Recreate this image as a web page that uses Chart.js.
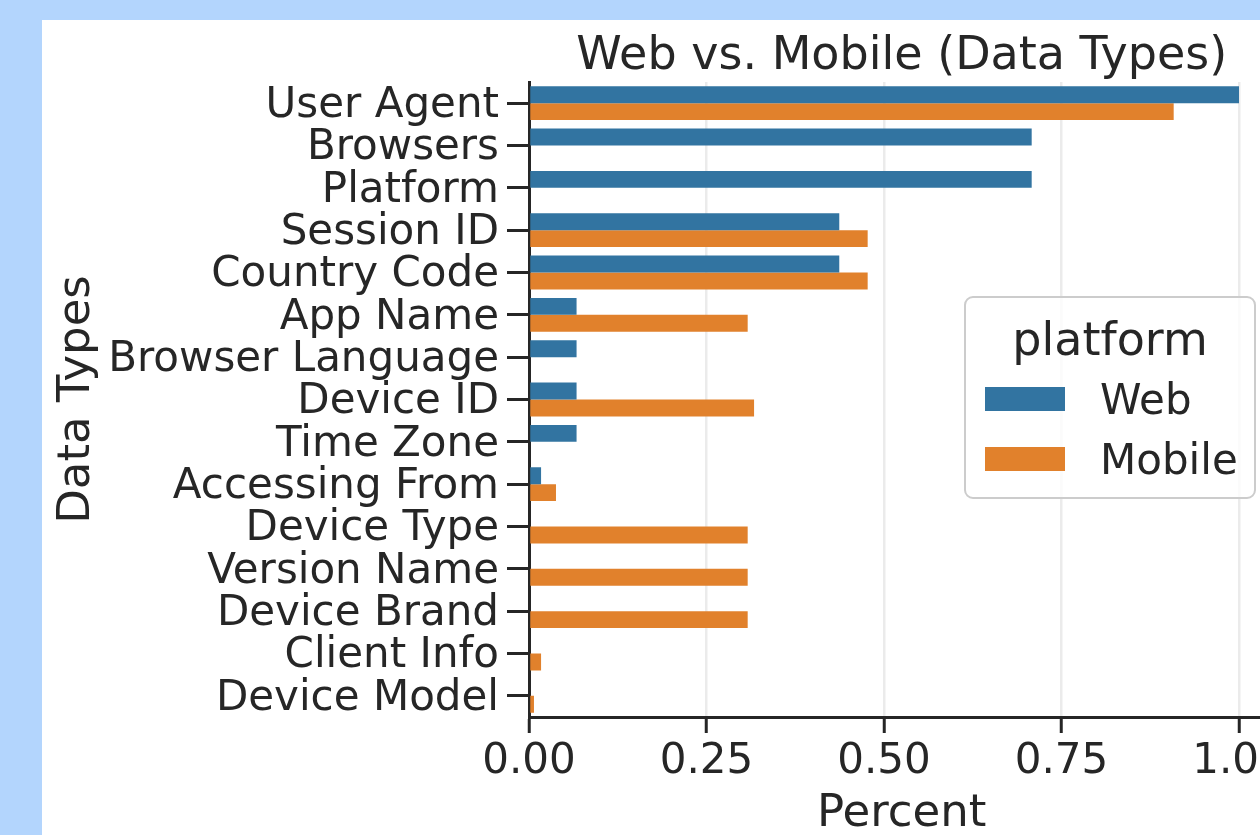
<!DOCTYPE html>
<html>
<head>
<meta charset="utf-8">
<script src="https://cdn.jsdelivr.net/npm/chart.js@4"></script>
<style>
  html, body {
    margin: 0;
    padding: 0;
    width: 1260px;
    height: 835px;
    overflow: hidden;
    background: #b3d5fd;
  }
  #panel {
    position: absolute;
    left: 42px;
    top: 20px;
    width: 1218px;
    height: 815px;
    background: #ffffff;
    overflow: hidden;
  }
  #types-chart {
    position: absolute;
    left: 0;
    top: 0;
  }
</style>
</head>
<body>
<div id="panel">
  <canvas id="types-chart" width="1300" height="825"></canvas>
</div>
<script>
// DATA
const dataTypes = [
  "User Agent",
  "Browsers",
  "Platform",
  "Session ID",
  "Country Code",
  "App Name",
  "Browser Language",
  "Device ID",
  "Time Zone",
  "Accessing From",
  "Device Type",
  "Version Name",
  "Device Brand",
  "Client Info",
  "Device Model",
]
const webPercent = [1.0, 0.708, 0.708, 0.437, 0.437, 0.067, 0.067, 0.067, 0.067, 0.017, 0, 0, 0, 0, 0]
const mobilePercent = [0.908, 0, 0, 0.477, 0.477, 0.308, 0, 0.317, 0, 0.038, 0.308, 0.308, 0.308, 0.017, 0.007]
const percentTicks = [0, 0.25, 0.5, 0.75, 1.0]

const inkColor = "#262626"
const fontFamily = "'DejaVu Sans', sans-serif"

// legend box drawn inside the plot, like the seaborn one
const platformLegend = {
  id: "platformLegend",
  afterDraw(chart) {
    const ctx = chart.ctx
    const x = 923
    const y = 277
    const w = 290
    const h = 201
    ctx.save()
    ctx.beginPath()
    ctx.roundRect(x, y, w, h, 8)
    ctx.fillStyle = "rgba(255, 255, 255, 0.8)"
    ctx.fill()
    ctx.lineWidth = 2
    ctx.strokeStyle = "#cccccc"
    ctx.stroke()

    ctx.fillStyle = inkColor
    ctx.textBaseline = "alphabetic"
    ctx.textAlign = "center"
    ctx.font = "46px " + fontFamily
    ctx.fillText("platform", x + w / 2, 335)

    ctx.textAlign = "left"
    ctx.font = "42px " + fontFamily
    chart.data.datasets.forEach((dataset, i) => {
      const rowY = 367 + i * 60
      ctx.fillStyle = dataset.backgroundColor
      ctx.fillRect(943, rowY, 80, 24)
      ctx.fillStyle = inkColor
      ctx.fillText(dataset.label, 1058, rowY + 27)
    })
    ctx.restore()
  },
}

const typesCanvas = document.getElementById("types-chart")

const typesData = {
  labels: dataTypes,
  datasets: [
    {
      label: "Web",
      data: webPercent,
      backgroundColor: "#3274a1",
      borderWidth: 0,
      categoryPercentage: 0.8,
      barPercentage: 1.0,
    },
    {
      label: "Mobile",
      data: mobilePercent,
      backgroundColor: "#e1812c",
      borderWidth: 0,
      categoryPercentage: 0.8,
      barPercentage: 1.0,
    },
  ],
}

const typesOptions = {
  indexAxis: "y",
  responsive: false,
  animation: false,
  layout: {
    padding: { left: 0, top: 0, right: 67.5, bottom: 0 },
  },
  scales: {
    x: {
      type: "linear",
      min: 0,
      max: 1.05,
      afterFit(scale) {
        scale.height = 128
      },
      afterBuildTicks(scale) {
        scale.ticks = percentTicks.map((v) => ({ value: v }))
      },
      grid: {
        color: "#ebebeb",
        lineWidth: 2.5,
        tickColor: inkColor,
        tickLength: 16,
        tickWidth: 3,
      },
      border: {
        color: inkColor,
        width: 3,
      },
      ticks: {
        color: inkColor,
        padding: 4,
        maxRotation: 0,
        font: { family: fontFamily, size: 42 },
        callback: (v) => Number(v).toFixed(2),
      },
      title: {
        display: true,
        text: "Percent",
        color: inkColor,
        font: { family: fontFamily, size: 45 },
        padding: { top: 0, bottom: 4 },
      },
    },
    y: {
      type: "category",
      afterFit(scale) {
        scale.width = 487
      },
      grid: {
        offset: false,
        drawOnChartArea: false,
        tickColor: inkColor,
        tickLength: 22,
        tickWidth: 3,
      },
      border: {
        color: inkColor,
        width: 3,
      },
      ticks: {
        color: inkColor,
        padding: 8,
        labelOffset: 3,
        autoSkip: false,
        font: { family: fontFamily, size: 42 },
      },
      title: {
        display: true,
        text: "Data Types",
        color: inkColor,
        font: { family: fontFamily, size: 45 },
        padding: { top: 8, bottom: 0 },
      },
    },
  },
  plugins: {
    legend: {
      display: false,
    },
    tooltip: {
      enabled: false,
    },
    title: {
      display: true,
      fullSize: false,
      text: "Web vs. Mobile (Data Types)",
      color: inkColor,
      font: { family: fontFamily, size: 46, weight: "normal", lineHeight: 1.0 },
      padding: { top: 14, bottom: 2 },
    },
  },
}

let typesChart = new Chart(typesCanvas, {
  type: "bar",
  data: typesData,
  options: typesOptions,
  plugins: [platformLegend],
})
</script>
</body>
</html>
